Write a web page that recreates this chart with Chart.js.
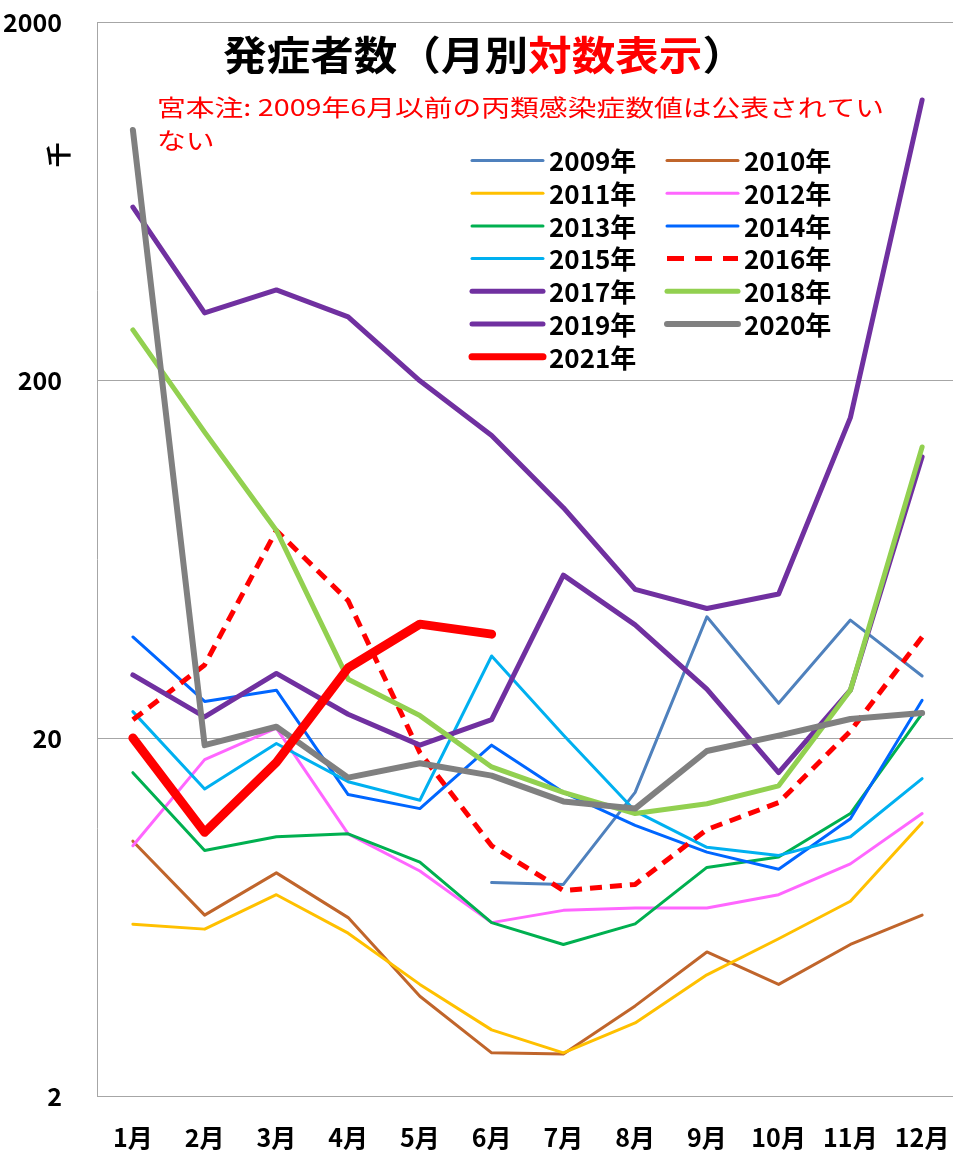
<!DOCTYPE html>
<html>
<head>
<meta charset="utf-8">
<script src="https://cdn.jsdelivr.net/npm/chart.js@4.4.0/dist/chart.umd.min.js"></script>
<style>
  html, body { margin: 0; padding: 0; background: #fff; overflow: hidden; }
  #wrap { width: 960px; height: 1152px; }
</style>
</head>
<body>
<div id="wrap"><canvas id="chart" width="960" height="1152"></canvas></div>
<script>
// 月と目盛り
const months = ['1月', '2月', '3月', '4月', '5月', '6月', '7月', '8月', '9月', '10月', '11月', '12月'];
const yTicks = [2, 20, 200, 2000];

// 各年の発症者数（千）
const y2009 = [null, null, null, null, null, 7.9, 7.8, 14.1, 43.6, 25.0, 42.7, 29.8];
const y2010 = [10.3, 6.4, 8.4, 6.3, 3.8, 2.64, 2.62, 3.57, 5.05, 4.1, 5.3, 6.4];
const y2011 = [6.04, 5.85, 7.3, 5.7, 4.1, 3.06, 2.64, 3.2, 4.36, 5.5, 7.0, 11.6];
const y2012 = [10.0, 17.4, 21.3, 10.8, 8.5, 6.1, 6.6, 6.7, 6.7, 7.3, 8.9, 12.3];
const y2013 = [16.0, 9.7, 10.6, 10.8, 9.0, 6.1, 5.3, 6.05, 8.7, 9.3, 12.3, 23.4];
const y2014 = [38.3, 25.3, 27.2, 13.9, 12.7, 19.1, 14.1, 11.4, 9.6, 8.6, 11.9, 25.5];
const y2015 = [23.7, 14.4, 19.3, 15.1, 13.4, 33.9, 20.4, 12.5, 9.9, 9.4, 10.6, 15.4];
const y2016 = [22.5, 32.0, 76.0, 48.4, 18.2, 10.0, 7.5, 7.8, 11.1, 13.2, 20.9, 38.3];
const y2017 = [30.0, 22.9, 30.3, 23.3, 19.1, 22.5, 57.0, 41.4, 27.4, 16.0, 27.2, 122];
const y2018 = [276, 143, 76.0, 29.2, 23.1, 16.6, 14.1, 12.3, 13.1, 14.7, 27.2, 130];
const y2019 = [608, 308, 357, 300, 199, 140, 88, 52, 46, 50.5, 157, 1211];
const y2020 = [999, 19.1, 21.5, 15.5, 17.0, 15.7, 13.3, 12.7, 18.4, 20.3, 22.6, 23.5];
const y2021 = [20.0, 10.9, 17.1, 31.4, 41.6, 39.0, null, null, null, null, null, null];

const FONT = "'Noto Sans CJK JP', 'Noto Sans', sans-serif";
Chart.defaults.font.family = FONT;

function line(label, data, color, width, dash) {
    return {
        label: label,
        data: data,
        borderColor: color,
        backgroundColor: color,
        borderWidth: width,
        borderDash: dash || [],
        borderCapStyle: dash ? 'butt' : 'round',
        borderJoinStyle: 'round',
        pointRadius: 0,
        pointHoverRadius: 0,
        tension: 0,
        spanGaps: false,
        fill: false
    };
}

const datasets = [
    line('2009年', y2009, '#4F81BD', 3),
    line('2010年', y2010, '#C0652B', 3),
    line('2011年', y2011, '#FFC000', 3),
    line('2012年', y2012, '#FF66FF', 3),
    line('2013年', y2013, '#00B050', 3),
    line('2014年', y2014, '#0066FF', 3),
    line('2015年', y2015, '#00B0F0', 3),
    line('2016年', y2016, '#FF0000', 5, [12, 8]),
    line('2017年', y2017, '#7030A0', 5),
    line('2018年', y2018, '#92D050', 5),
    line('2019年', y2019, '#7030A0', 5),
    line('2020年', y2020, '#808080', 6),
    line('2021年', y2021, '#FF0000', 9)
];
// 後の年を上に描く
datasets.forEach((d, i) => { d.order = datasets.length - i; });

// タイトル・注記・凡例
const decorations = {
    id: 'decorations',
    afterDatasetsDraw(chart) {
        const ctx = chart.ctx;
        ctx.save();

        // タイトル（一部赤）
        const parts = [['発症者数（月別', '#000'], ['対数表示', '#FF0000'], ['）', '#000']];
        ctx.font = 'bold 40px ' + FONT;
        ctx.textBaseline = 'middle';
        ctx.textAlign = 'left';
        let total = 0;
        parts.forEach(p => { total += ctx.measureText(p[0]).width; });
        const titleW = 523, titleX = 223, titleY = 55;
        ctx.save();
        ctx.translate(titleX, titleY);
        ctx.scale(titleW / total, 1);
        let x = 0;
        parts.forEach(p => {
            ctx.fillStyle = p[1];
            ctx.fillText(p[0], x, 0);
            x += ctx.measureText(p[0]).width;
        });
        ctx.restore();

        // 注記
        ctx.font = '23px ' + FONT;
        ctx.fillStyle = '#FF0000';
        const note1 = '宮本注: 2009年6月以前の丙類感染症数値は公表されてい';
        const note2 = 'ない';
        const sx = 727 / ctx.measureText(note1).width;
        ctx.save();
        ctx.translate(157, 107);
        ctx.scale(sx, 1);
        ctx.fillText(note1, 0, 0);
        ctx.fillText(note2, 0, 33);
        ctx.restore();

        // 縦軸単位
        ctx.save();
        ctx.font = 'bold 25px ' + FONT;
        ctx.fillStyle = '#000';
        ctx.translate(58, 155);
        ctx.rotate(-Math.PI / 2);
        ctx.textAlign = 'center';
        ctx.fillText('千', 0, 0);
        ctx.restore();

        // 凡例（2列）
        ctx.font = 'bold 26px ' + FONT;
        ctx.fillStyle = '#000';
        chart.data.datasets.forEach((ds, i) => {
            const col = i % 2, row = Math.floor(i / 2);
            const lx = col === 0 ? 472 : 667;
            const ly = 160.5 + row * 32.7;
            ctx.save();
            ctx.strokeStyle = ds.borderColor;
            ctx.lineWidth = Math.min(ds.borderWidth, 7);
            ctx.lineCap = ds.borderDash.length ? 'butt' : 'round';
            ctx.setLineDash(ds.borderDash.length ? [17, 11] : []);
            ctx.beginPath();
            ctx.moveTo(lx, ly);
            ctx.lineTo(lx + 71, ly);
            ctx.stroke();
            ctx.restore();
            ctx.fillText(ds.label, lx + 77, ly + 1);
        });

        ctx.restore();
    }
};

new Chart(document.getElementById('chart').getContext('2d'), {
    type: 'line',
    data: { labels: months, datasets: datasets },
    options: {
        responsive: false,
        animation: false,
        layout: { padding: { top: 22, right: 2, left: 0, bottom: 0 } },
        plugins: {
            legend: { display: false },
            title: { display: false },
            tooltip: { enabled: false }
        },
        scales: {
            x: {
                type: 'category',
                offset: true,
                grid: { display: false, drawTicks: false },
                border: { display: true, color: '#A6A6A6', width: 1 },
                ticks: {
                    color: '#000',
                    padding: 26,
                    maxRotation: 0,
                    autoSkip: false,
                    font: { size: 25, weight: 'bold' }
                },
                afterFit(scale) {
                    scale.height = 56;
                    scale.paddingLeft = 0;
                    scale.paddingRight = 0;
                }
            },
            y: {
                type: 'logarithmic',
                min: 2,
                max: 2000,
                afterBuildTicks(scale) {
                    scale.ticks = yTicks.map(v => ({ value: v }));
                },
                grid: { color: '#A6A6A6', lineWidth: 1, drawTicks: false },
                border: { display: true, color: '#A6A6A6', width: 1 },
                ticks: {
                    color: '#000',
                    padding: 35,
                    font: { size: 25, weight: 'bold' },
                    callback: v => String(v)
                },
                afterFit(scale) {
                    scale.width = 97;
                    scale.paddingTop = 0;
                    scale.paddingBottom = 0;
                }
            }
        }
    },
    plugins: [decorations]
});
</script>
</body>
</html>
